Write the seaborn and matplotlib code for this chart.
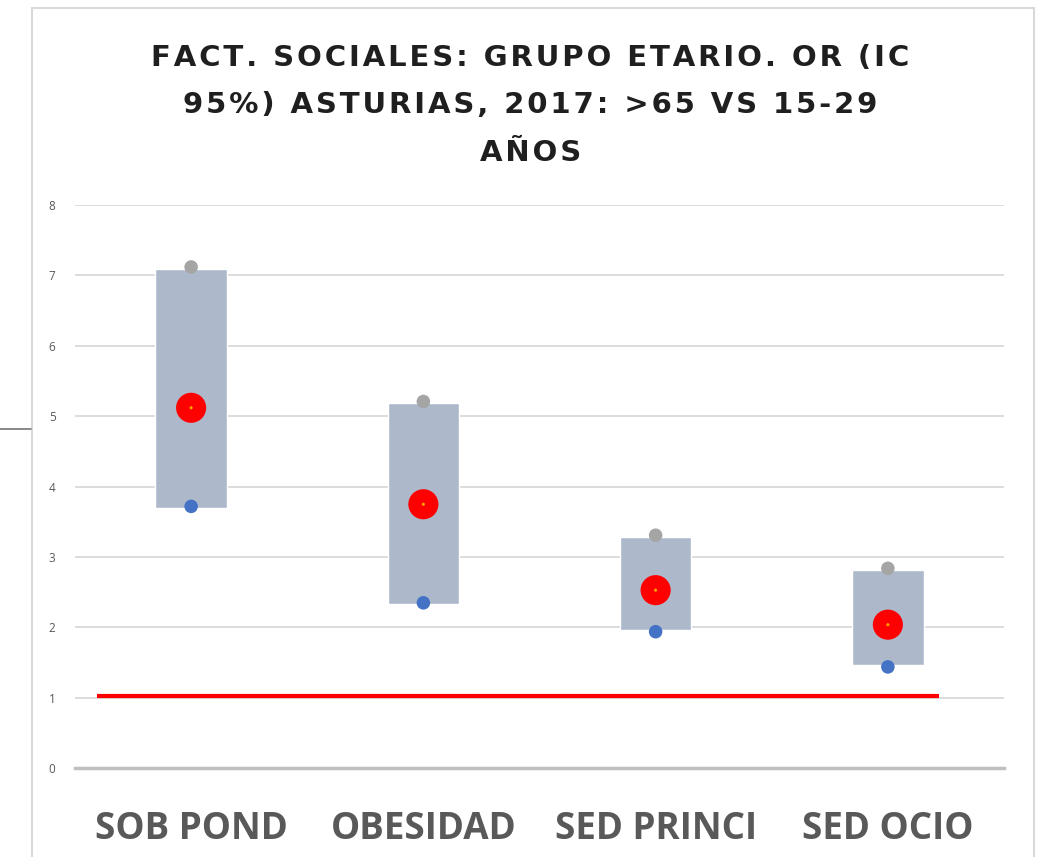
import seaborn as sns
import pandas as pd
import matplotlib.pyplot as plt
from matplotlib.lines import Line2D
from matplotlib.patches import Rectangle

# Data
categorias = ['SOB POND', 'OBESIDAD', 'SED PRINCI', 'SED OCIO']
caja_inf = [3.70, 2.34, 1.97, 1.46]
caja_sup = [7.09, 5.19, 3.29, 2.82]
ic_inf = [3.72, 2.35, 1.94, 1.44]
ic_sup = [7.12, 5.21, 3.31, 2.84]
odds_ratio = [5.12, 3.75, 2.53, 2.04]
referencia_x = [-0.405, 3.22]
referencia_y = [1.03, 1.03]

titulo = ['FACT. SOCIALES: GRUPO ETARIO. OR (IC',
          '95%) ASTURIAS, 2017: >65 VS 15-29',
          'AÑOS']

df = pd.DataFrame({
    'cat': categorias,
    'caja_inf': caja_inf,
    'caja_sup': caja_sup,
    'ic_inf': ic_inf,
    'ic_sup': ic_sup,
    'or': odds_ratio,
})
df['x'] = range(len(df))

sns.set_theme(style='white')
plt.rcParams['font.family'] = ['DejaVu Sans']

fig = plt.figure(figsize=(10.4, 8.57), dpi=100)
ax = fig.add_axes([75 / 1040, 1 - 768.3 / 857, 929 / 1040, (768.3 - 205) / 857])

# boxes between the limits
ax.bar(df['x'], df['caja_sup'] - df['caja_inf'], bottom=df['caja_inf'],
       width=0.308, color='#adb9ca', zorder=2)

# reference line
ax.plot(referencia_x, referencia_y, color='#ff0000', lw=3, zorder=3,
        solid_capstyle='butt')

sns.scatterplot(data=df, x='x', y='ic_sup', color='#a5a5a5', s=95,
                edgecolor='none', ax=ax, zorder=4)
sns.scatterplot(data=df, x='x', y='ic_inf', color='#4472c4', s=95,
                edgecolor='none', ax=ax, zorder=4)
sns.scatterplot(data=df, x='x', y='or', color='#ff0000', s=470,
                edgecolor='none', ax=ax, zorder=5)
sns.scatterplot(data=df, x='x', y='or', color='#ffa500', s=5,
                edgecolor='none', ax=ax, zorder=6)

ax.set_xlim(-0.5, 3.5)
ax.set_ylim(0, 8)
ax.set_yticks(range(0, 9))
ax.set_xticks(df['x'])
ax.set_xticklabels(categorias)
ax.set_xlabel('')
ax.set_ylabel('')

ax.yaxis.grid(True, color='#d9d9d9', lw=1.3, zorder=0)
ax.xaxis.grid(False)
for side in ['top', 'right', 'left']:
    ax.spines[side].set_visible(False)
ax.spines['bottom'].set_color('#bfbfbf')
ax.spines['bottom'].set_linewidth(2.5)
ax.set_axisbelow(True)

ax.tick_params(axis='y', length=0, pad=14, labelsize=8.5, labelcolor='#595959')
ax.tick_params(axis='x', length=0, pad=30, labelsize=26.5, labelcolor='#595959')
for lab in ax.get_xticklabels():
    lab.set_family('Open Sans')
    lab.set_fontweight('bold')
for lab in ax.get_yticklabels():
    lab.set_family('Open Sans')

# title with a bit of letter spacing (hair spaces)
espaciado = '\n'.join('\u200a'.join(linea) for linea in titulo)
fig.text(0.51, 1 - 44 / 857, espaciado, ha='center', va='top', fontsize=21,
         fontweight='bold', color='#1f1f1f', linespacing=1.88)

# chart border and stray line on the left
fig.add_artist(Rectangle((32 / 1040, -0.05), (1034 - 32) / 1040, 1.05 - 8 / 857,
                         transform=fig.transFigure, fill=False,
                         edgecolor='#d9d9d9', lw=1.5))
fig.add_artist(Line2D([0, 31 / 1040], [1 - 429 / 857, 1 - 429 / 857],
                      transform=fig.transFigure, color='#7f7f7f', lw=1.3))

fig.savefig('out.png', dpi=100)
